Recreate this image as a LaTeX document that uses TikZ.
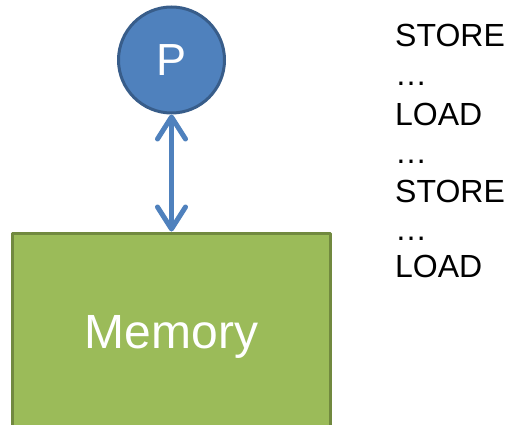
\documentclass[tikz,border=0pt]{standalone}
\usepackage{fontspec}
\setmainfont{Liberation Sans}
\usetikzlibrary{arrows.meta}
\definecolor{procfill}{HTML}{4F81BD}
\definecolor{procline}{HTML}{385D8A}
\definecolor{memfill}{HTML}{9BBB59}
\definecolor{memline}{HTML}{71893F}
\tikzset{
  proc/.style={circle, draw=procline, fill=procfill, line width=3pt,
    minimum size=106pt, inner sep=0pt, text=white,
    font=\fontsize{45}{54}\selectfont},
  mem/.style={rectangle, draw=memline, fill=memfill, line width=3pt,
    minimum width=318pt, minimum height=208pt, inner sep=0pt, text=white,
    font=\fontsize{48}{58}\selectfont},
  instr/.style={anchor=base west, inner sep=0pt, font=\fontsize{32}{38}\selectfont},
  barb/.tip={Straight Barb[round,length=22pt,width=28pt]},
}
\begin{document}
\begin{tikzpicture}[x=1pt, y=-1pt, line join=round, line cap=round]
			\useasboundingbox (0,0) rectangle (508,425);
			\clip (0,0) rectangle (508,425);
			\node[proc] (p) at (171.5,60) {P};
			\node[mem] (m) at (171.5,337) {Memory};
			\draw[procfill, line width=5pt, barb-barb]
			(p.south) -- (m.north);
			\path
			(395,47) node[instr] (s1) {STORE}
			(395,86) node[instr] (d1) {…}
			(395,125) node[instr] (l1) {LOAD}
			(395,163) node[instr] (d2) {…}
			(395,202) node[instr] (s2) {STORE}
			(395,240) node[instr] (d3) {…}
			(395,277) node[instr] (l2) {LOAD}
			;
	\end{tikzpicture}
\end{document}
